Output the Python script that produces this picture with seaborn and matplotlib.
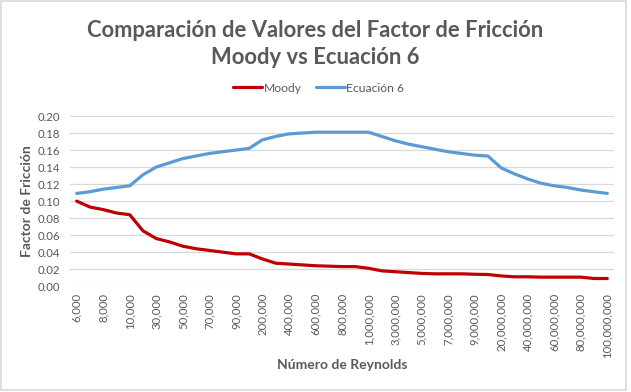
import numpy as np
import pandas as pd
import seaborn as sns
import matplotlib.pyplot as plt
from matplotlib.patches import Rectangle

reynolds = [6000, 7000, 8000, 9000, 10000,
            20000, 30000, 40000, 50000, 60000, 70000, 80000, 90000, 100000,
            200000, 300000, 400000, 500000, 600000, 700000, 800000, 900000, 1000000,
            2000000, 3000000, 4000000, 5000000, 6000000, 7000000, 8000000, 9000000, 10000000,
            20000000, 30000000, 40000000, 50000000, 60000000, 70000000, 80000000, 90000000, 100000000]

moody = [0.100, 0.093, 0.090, 0.086, 0.084,
         0.065, 0.056, 0.052, 0.047, 0.044, 0.042, 0.040, 0.038, 0.038,
         0.032, 0.027, 0.026, 0.025, 0.024, 0.0235, 0.023, 0.023, 0.021,
         0.018, 0.017, 0.016, 0.015, 0.0145, 0.0145, 0.0145, 0.014, 0.0137,
         0.012, 0.011, 0.011, 0.0106, 0.0106, 0.0106, 0.0106, 0.009, 0.009]

ecuacion6 = [0.109, 0.111, 0.114, 0.116, 0.118,
             0.131, 0.140, 0.145, 0.150, 0.153, 0.156, 0.158, 0.160, 0.162,
             0.172, 0.176, 0.179, 0.180, 0.181, 0.181, 0.181, 0.181, 0.181,
             0.176, 0.171, 0.167, 0.164, 0.161, 0.158, 0.156, 0.154, 0.153,
             0.139, 0.132, 0.126, 0.121, 0.118, 0.116, 0.113, 0.111, 0.109]

series_names = ["Moody", "Ecuación 6"]
colors = ["#C00000", "#5B9BD5"]

sns.set_style("white")
plt.rcParams['font.family'] = ['Lato', 'DejaVu Sans']
gray = "#595959"

pos = np.arange(len(reynolds))
df = pd.concat([
    pd.DataFrame({"pos": pos, "f": moody, "serie": series_names[0]}),
    pd.DataFrame({"pos": pos, "f": ecuacion6, "serie": series_names[1]}),
])

fig = plt.figure(figsize=(6.31, 3.92), dpi=100)
ax = fig.add_axes([0.111, 0.270, 0.862, 0.434])
sns.lineplot(data=df, x="pos", y="f", hue="serie", palette=colors,
             linewidth=2.3, ax=ax, legend=False)

ax.set_xlim(-0.5, len(reynolds) - 0.5)
ax.set_ylim(0, 0.2)
ax.set_yticks(np.arange(0, 0.201, 0.02))
ax.set_yticklabels([f"{v:.2f}" for v in np.arange(0, 0.201, 0.02)])
ax.set_xticks(pos[::2])
ax.set_xticklabels([f"{r:,}" for r in reynolds[::2]], rotation=90)
ax.tick_params(axis="both", length=0, labelsize=8.2, colors=gray)
ax.tick_params(axis="y", pad=7)
ax.tick_params(axis="x", pad=5)
ax.grid(axis="y", color="#D9D9D9", linewidth=0.9)
ax.set_axisbelow(True)
for s in ax.spines.values():
    s.set_visible(False)

ax.set_xlabel("Número de Reynolds", fontsize=10, fontweight="bold", color=gray)
ax.set_ylabel("Factor de Fricción", fontsize=10, fontweight="bold", color=gray)
ax.xaxis.set_label_coords(0.5, -0.43)
ax.yaxis.set_label_coords(-0.068, 0.5)

fig.text(0.5, 1 - 44 / 392, "Comparación de Valores del Factor de Fricción\nMoody vs Ecuación 6",
         ha="center", va="center", fontsize=15.8, fontweight="bold", color=gray, linespacing=1.32)

handles = [plt.Line2D([], [], color=c, linewidth=2.3) for c in colors]
fig.legend(handles, series_names, loc="center", bbox_to_anchor=(0.505, 1 - 88 / 392), ncol=2,
           frameon=False, fontsize=8.7, handlelength=2.4, handletextpad=0.1, columnspacing=1.2,
           labelcolor=gray)

fig.patches.append(Rectangle((0.0015, 0.005), 0.99, 0.992, transform=fig.transFigure,
                             fill=False, edgecolor="#D9D9D9", linewidth=1.2))

fig.savefig("out.png", dpi=100)
